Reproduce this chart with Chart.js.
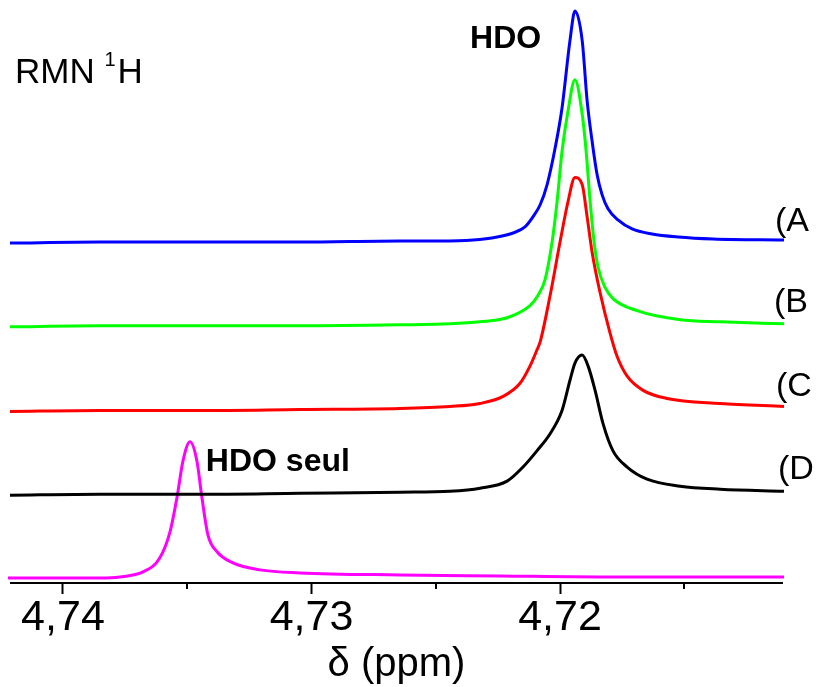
<!DOCTYPE html>
<html>
<head>
<meta charset="utf-8">
<script src="https://cdn.jsdelivr.net/npm/chart.js@4/dist/chart.umd.min.js"></script>
<style>
  html, body { margin: 0; padding: 0; background: #fff; }
  #wrap { width: 822px; height: 687px; position: relative; }
</style>
</head>
<body>
<div id="wrap"><canvas id="myChart"></canvas></div>
<script>
// chemical shift (ppm) and intensity
var ppmA = [4.74213, 4.73851, 4.73449, 4.73046, 4.72644, 4.72483, 4.72350, 4.72253, 4.72189, 4.72141, 4.72109, 4.72080, 4.72052, 4.72020, 4.71992, 4.71960, 4.71940, 4.71911, 4.71891, 4.71871, 4.71851, 4.71831, 4.71807, 4.71767, 4.71710, 4.71630, 4.71525, 4.71384, 4.71099];
var intA = [336, 337, 337, 337, 338, 338, 339, 342, 346, 352, 362, 374, 394, 430, 470, 537, 566, 537, 477, 437, 404, 384, 370, 359, 350, 345, 342, 340, 339];

var ppmB = [4.74213, 4.73851, 4.73449, 4.73046, 4.72644, 4.72443, 4.72322, 4.72213, 4.72121, 4.72089, 4.72060, 4.72032, 4.72012, 4.71992, 4.71968, 4.71940, 4.71911, 4.71895, 4.71879, 4.71863, 4.71847, 4.71819, 4.71787, 4.71690, 4.71517, 4.71356, 4.71099];
var intB = [253, 254, 254, 254, 255, 256, 258, 262, 274, 284, 300, 337, 377, 427, 467, 498, 464, 427, 377, 337, 312, 292, 281, 269, 260, 258, 256];

var ppmC = [4.74213, 4.73851, 4.73449, 4.73046, 4.72644, 4.72443, 4.72322, 4.72229, 4.72161, 4.72121, 4.72093, 4.72080, 4.72040, 4.72000, 4.71968, 4.71940, 4.71911, 4.71891, 4.71871, 4.71839, 4.71799, 4.71771, 4.71730, 4.71666, 4.71570, 4.71356, 4.71099];
var intC = [169, 170, 170, 171, 172, 174, 177, 184, 197, 214, 230, 238, 284, 337, 377, 401, 394, 362, 327, 287, 247, 224, 204, 190, 182, 177, 174];

var ppmD = [4.74213, 4.73851, 4.73449, 4.73046, 4.72644, 4.72443, 4.72322, 4.72213, 4.72149, 4.72093, 4.72040, 4.71992, 4.71960, 4.71940, 4.71911, 4.71887, 4.71859, 4.71827, 4.71787, 4.71730, 4.71650, 4.71517, 4.71356, 4.71099];
var intD = [86, 87, 87, 88, 89, 90, 93, 100, 114, 130, 147, 170, 200, 217, 225, 214, 190, 157, 130, 114, 102, 95, 92, 90];

var ppmE = [4.74221, 4.74012, 4.73851, 4.73771, 4.73678, 4.73610, 4.73569, 4.73541, 4.73517, 4.73489, 4.73461, 4.73441, 4.73417, 4.73380, 4.73316, 4.73207, 4.73046, 4.72644, 4.72241, 4.71839, 4.71099];
var intE = [4, 4, 4, 5, 10, 24, 50, 84, 120, 139, 120, 84, 47, 30, 19, 12, 9, 7, 6, 5, 5];

var majorTicks = [4.74, 4.73, 4.72];
var minorTicks = [4.735, 4.725, 4.715];

// text on the plot (x in ppm, y = baseline in intensity units)
var noteText = ['HDO', 'HDO seul', '(A', '(B', '(C', '(D'];
var notePpm = [4.72362, 4.73425, 4.71135, 4.71139, 4.71131, 4.71123];
var noteInt = [529, 110, 348, 268, 184, 102];
var noteBold = [true, true, false, false, false, false];

var FONT = "'Liberation Sans', Arial, Helvetica, sans-serif";

function pts(xs, ys) {
    let out = [];
    for (let i = 0; i < xs.length; i++) {
        out.push({ x: xs[i], y: ys[i] });
    }
    return out;
}

function spectrum(data, color) {
    return {
        data: data,
        borderColor: color,
        borderWidth: 3,
        pointRadius: 0,
        fill: false,
        cubicInterpolationMode: 'monotone',
        clip: false
    };
}

// short minor ticks and the text labels
var extras = {
    id: 'extras',
    afterDraw: function (chart) {
        let ctx = chart.ctx;
        let xs = chart.scales.x;
        let ys = chart.scales.y;
        ctx.save();
        ctx.strokeStyle = '#000';
        ctx.lineWidth = 2;
        for (let i = 0; i < minorTicks.length; i++) {
            let px = Math.round(xs.getPixelForValue(minorTicks[i]));
            ctx.beginPath();
            ctx.moveTo(px, xs.top);
            ctx.lineTo(px, xs.top + 6);
            ctx.stroke();
        }
        ctx.fillStyle = '#000';
        ctx.textBaseline = 'alphabetic';
        ctx.textAlign = 'left';
        for (let i = 0; i < noteText.length; i++) {
            ctx.font = noteBold[i] ? 'bold 32px ' + FONT : '34px ' + FONT;
            ctx.fillText(noteText[i], xs.getPixelForValue(notePpm[i]), ys.getPixelForValue(noteInt[i]));
        }
        // RMN 1H with superscript
        let x0 = xs.getPixelForValue(4.74193);
        let y0 = ys.getPixelForValue(495);
        ctx.font = '35px ' + FONT;
        ctx.fillText('RMN ', x0, y0);
        let w = ctx.measureText('RMN ').width;
        ctx.font = '20px ' + FONT;
        ctx.fillText('1', x0 + w, y0 - 17);
        let w1 = ctx.measureText('1').width;
        ctx.font = '35px ' + FONT;
        ctx.fillText('H', x0 + w + w1 + 2, y0);
        ctx.restore();
    }
};

var ctx = document.getElementById('myChart');
var chart = new Chart(ctx, {
    type: 'line',
    data: {
        datasets: [
            spectrum(pts(ppmA, intA), '#0000ff'),
            spectrum(pts(ppmB, intB), '#00ff00'),
            spectrum(pts(ppmC, intC), '#ff0000'),
            spectrum(pts(ppmD, intD), '#000000'),
            spectrum(pts(ppmE, intE), '#ff00ff')
        ]
    },
    options: {
        responsive: true,
        maintainAspectRatio: false,
        animation: false,
        layout: { padding: { left: 11, right: 40, top: 0, bottom: 0 } },
        scales: {
            x: {
                type: 'linear',
                reverse: true,
                min: 4.71107,
                max: 4.74209,
                afterBuildTicks: function (scale) {
                    scale.ticks = majorTicks.map(function (v) { return { value: v }; });
                },
                border: { display: true, color: '#000', width: 2 },
                grid: { drawOnChartArea: false, drawTicks: true, tickLength: 11, tickWidth: 2, tickColor: '#000' },
                ticks: {
                    color: '#000',
                    padding: 3,
                    maxRotation: 0,
                    autoSkip: false,
                    font: { family: FONT, size: 43, lineHeight: 1 },
                    callback: function (v) { return Number(v).toFixed(2).replace('.', ','); }
                },
                title: {
                    display: true,
                    text: 'δ (ppm)',
                    color: '#000',
                    padding: { top: 2, bottom: 2 },
                    font: { family: FONT, size: 40, lineHeight: 1 }
                }
            },
            y: {
                display: false,
                min: -1,
                max: 577
            }
        },
        plugins: {
            legend: { display: false },
            tooltip: { enabled: false }
        }
    },
    plugins: [extras]
});
</script>
</body>
</html>
